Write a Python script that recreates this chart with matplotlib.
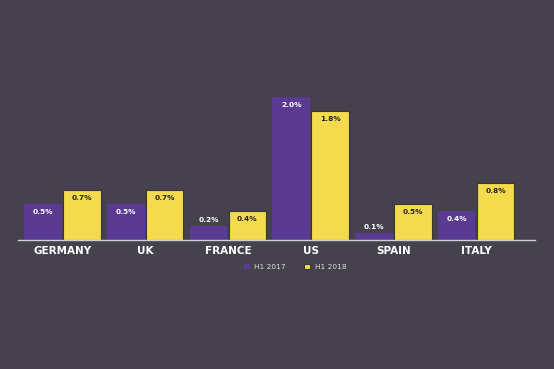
import matplotlib
matplotlib.use("Agg")
import matplotlib.pyplot as plt
import numpy as np

categories = ["GERMANY", "UK", "FRANCE", "US", "SPAIN", "ITALY"]
h1_2017 = [0.5, 0.5, 0.2, 2.0, 0.1, 0.4]
h1_2018 = [0.7, 0.7, 0.4, 1.8, 0.5, 0.8]
series_names = ["H1 2017", "H1 2018"]

BG = "#45424e"
PURPLE = "#5b3b92"
YELLOW = "#f3db4d"

W, H = 554, 369
fig = plt.figure(figsize=(W / 100, H / 100), dpi=100, facecolor=BG)
base_y = 240
ymax = 2.2
px_per_unit = 143 / 2.0
ax_h = ymax * px_per_unit
ax = fig.add_axes([18 / W, (H - base_y) / H, (535 - 18) / W, ax_h / H])
ax.set_facecolor(BG)

x = np.arange(len(categories))
bw = 0.455
off = 0.235
b1 = ax.bar(x - off, h1_2017, bw, color=PURPLE, label=series_names[0])
b2 = ax.bar(x + off, h1_2018, bw, color=YELLOW, edgecolor="#3a3830",
            linewidth=0.8, label=series_names[1])


def label_y(v):
    if v >= 0.3:
        return v - 0.11
    return v + 0.08


for rect, v in zip(b1, h1_2017):
    ax.text(rect.get_x() + rect.get_width() / 2, label_y(v), f"{v:.1f}%",
            ha="center", va="center", color="white", fontsize=5.3,
            fontweight="bold")
for rect, v in zip(b2, h1_2018):
    ax.text(rect.get_x() + rect.get_width() / 2, label_y(v), f"{v:.1f}%",
            ha="center", va="center", color="#222222", fontsize=5.3,
            fontweight="bold")

ax.set_xlim(-0.538, 5.713)
ax.set_ylim(0, ymax)
for s in ["top", "right", "left"]:
    ax.spines[s].set_visible(False)
ax.spines["bottom"].set_color("#d0d0d8")
ax.spines["bottom"].set_linewidth(1.0)
ax.set_yticks([])
ax.set_xticks(x)
ax.set_xticklabels(categories, color="white", fontsize=7.5, fontweight="bold")
ax.tick_params(axis="x", length=0, pad=4)

leg = fig.legend(handles=[b1, b2], labels=series_names, loc="center",
                 bbox_to_anchor=(295 / W, (H - 267) / H), ncol=2,
                 frameon=False, fontsize=5.3, handlelength=0.8,
                 handleheight=0.8, columnspacing=2.5, handletextpad=0.6)
for t in leg.get_texts():
    t.set_color("#dddddd")

fig.savefig("out.png", dpi=100, facecolor=BG)
